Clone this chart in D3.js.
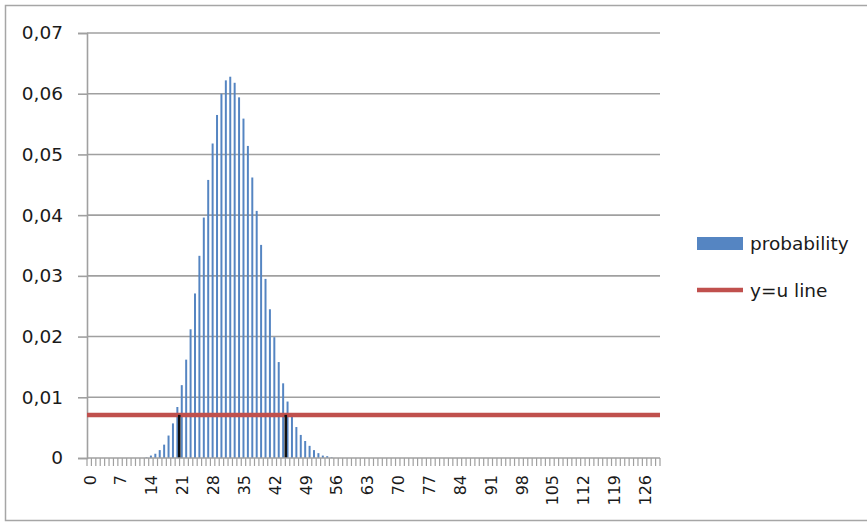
<!DOCTYPE html>
<html>
<head>
<meta charset="utf-8">
<script src="https://cdn.jsdelivr.net/npm/d3@7"></script>
<style>
  body { margin: 0; background: #fff; }
  svg { display: block; font-family: "DejaVu Sans", sans-serif; }
</style>
</head>
<body>
<svg id="chart" width="867" height="525"></svg>
<script>
// categories 0..129, probability (zero outside 13..55)
const categories = d3.range(0, 130);
const nonZeroStart = 13;
const probValues = [
  0.0001, 0.0004, 0.0007, 0.0013, 0.0022, 0.0037, 0.0057, 0.0084, 0.0120, 0.0162,
  0.0212, 0.0271, 0.0333, 0.0396, 0.0458, 0.0518, 0.0565, 0.0600, 0.0622, 0.0628,
  0.0618, 0.0594, 0.0559, 0.0514, 0.0462, 0.0407, 0.0351, 0.0295, 0.0245, 0.0199,
  0.0158, 0.0123, 0.0093, 0.0068, 0.0051, 0.0038, 0.0028, 0.0020, 0.0013, 0.0008,
  0.0004, 0.0003, 0.0001
];
const probability = categories.map(c => {
  const k = c - nonZeroStart;
  return k >= 0 && k < probValues.length ? probValues[k] : 0;
});
const uValue = 0.0071;             // y=u line
const cutoffs = [20.43, 44.6];     // black markers where the line meets the bars
const yTicks = [0, 0.01, 0.02, 0.03, 0.04, 0.05, 0.06, 0.07];
const xTickLabels = d3.range(0, 130, 7);
const legendNames = ["probability", "y=u line"];

const svg = d3.select("#chart");
const plotLeft = 87, plotRight = 660, plotTop = 33, plotBottom = 458;

// outer chart border
svg.append("rect")
  .attr("x", 5.5).attr("y", 5.5)
  .attr("width", 880).attr("height", 515)
  .attr("fill", "none").attr("stroke", "#a6a6a6").attr("stroke-width", 1.5);

const x = d3.scaleBand().domain(categories).range([plotLeft, plotRight]).paddingInner(0.55).paddingOuter(0.275);
const xLin = d3.scaleLinear().domain([0, categories.length]).range([plotLeft, plotRight]);
const y = d3.scaleLinear().domain([0, 0.07]).range([plotBottom, plotTop]);

const fmt = d3.formatLocale({ decimal: ",", thousands: ".", grouping: [3], currency: ["", ""] }).format(".2f");

// gridlines
svg.append("g")
  .selectAll("line")
  .data(yTicks.filter(d => d > 0))
  .join("line")
  .attr("x1", plotLeft).attr("x2", plotRight)
  .attr("y1", d => y(d)).attr("y2", d => y(d))
  .attr("stroke", "#a0a0a0").attr("stroke-width", 1.6);

// y axis
const yAxis = svg.append("g")
  .attr("transform", `translate(${plotLeft},0)`)
  .call(d3.axisLeft(y).tickValues(yTicks).tickSize(9).tickPadding(15)
    .tickFormat(d => d === 0 ? "0" : fmt(d)));
yAxis.select(".domain").attr("stroke", "#a0a0a0").attr("stroke-width", 1.6);
yAxis.selectAll(".tick line").attr("stroke", "#a0a0a0").attr("stroke-width", 1.6);
yAxis.selectAll("text").attr("font-size", 18.5).attr("fill", "#1a1a1a")
  .attr("font-family", "DejaVu Sans");

// bars
svg.append("g")
  .selectAll("rect")
  .data(categories)
  .join("rect")
  .attr("x", c => x(c))
  .attr("width", x.bandwidth())
  .attr("y", c => y(probability[c]))
  .attr("height", c => y(0) - y(probability[c]))
  .attr("fill", "#5585c2");

// y=u line
svg.append("line")
  .attr("x1", plotLeft).attr("x2", plotRight)
  .attr("y1", y(uValue)).attr("y2", y(uValue))
  .attr("stroke", "#c0504d").attr("stroke-width", 4.5);

// black cutoff markers
svg.append("g")
  .selectAll("line")
  .data(cutoffs)
  .join("line")
  .attr("x1", d => xLin(d + 0.5)).attr("x2", d => xLin(d + 0.5))
  .attr("y1", y(0)).attr("y2", y(uValue))
  .attr("stroke", "#111").attr("stroke-width", 2.6);

// x axis: ticks at every category boundary
const xg = svg.append("g");
xg.append("line")
  .attr("x1", plotLeft).attr("x2", plotRight)
  .attr("y1", plotBottom).attr("y2", plotBottom)
  .attr("stroke", "#a0a0a0").attr("stroke-width", 1.6);
xg.selectAll("line.tk")
  .data(d3.range(0, categories.length + 1))
  .join("line").attr("class", "tk")
  .attr("x1", d => xLin(d)).attr("x2", d => xLin(d))
  .attr("y1", plotBottom).attr("y2", plotBottom + 8)
  .attr("stroke", "#a0a0a0").attr("stroke-width", 1.2);
xg.selectAll("text")
  .data(xTickLabels)
  .join("text")
  .attr("transform", d => `translate(${x(d) + x.bandwidth() / 2},475) rotate(-90)`)
  .attr("dy", "0.4em")
  .attr("text-anchor", "end")
  .attr("font-size", 16)
  .attr("fill", "#1a1a1a")
  .text(d => d);

// legend
const lg = svg.append("g");
lg.append("rect")
  .attr("x", 697).attr("y", 237).attr("width", 46).attr("height", 13)
  .attr("fill", "#5585c2");
lg.append("line")
  .attr("x1", 697).attr("x2", 743).attr("y1", 290).attr("y2", 290)
  .attr("stroke", "#c0504d").attr("stroke-width", 4.5);
lg.selectAll("text")
  .data(legendNames)
  .join("text")
  .attr("x", 750)
  .attr("y", (d, i) => [244, 291][i])
  .attr("dy", "0.35em")
  .attr("font-size", 18.5)
  .attr("fill", "#1a1a1a")
  .text(d => d);
</script>
</body>
</html>
